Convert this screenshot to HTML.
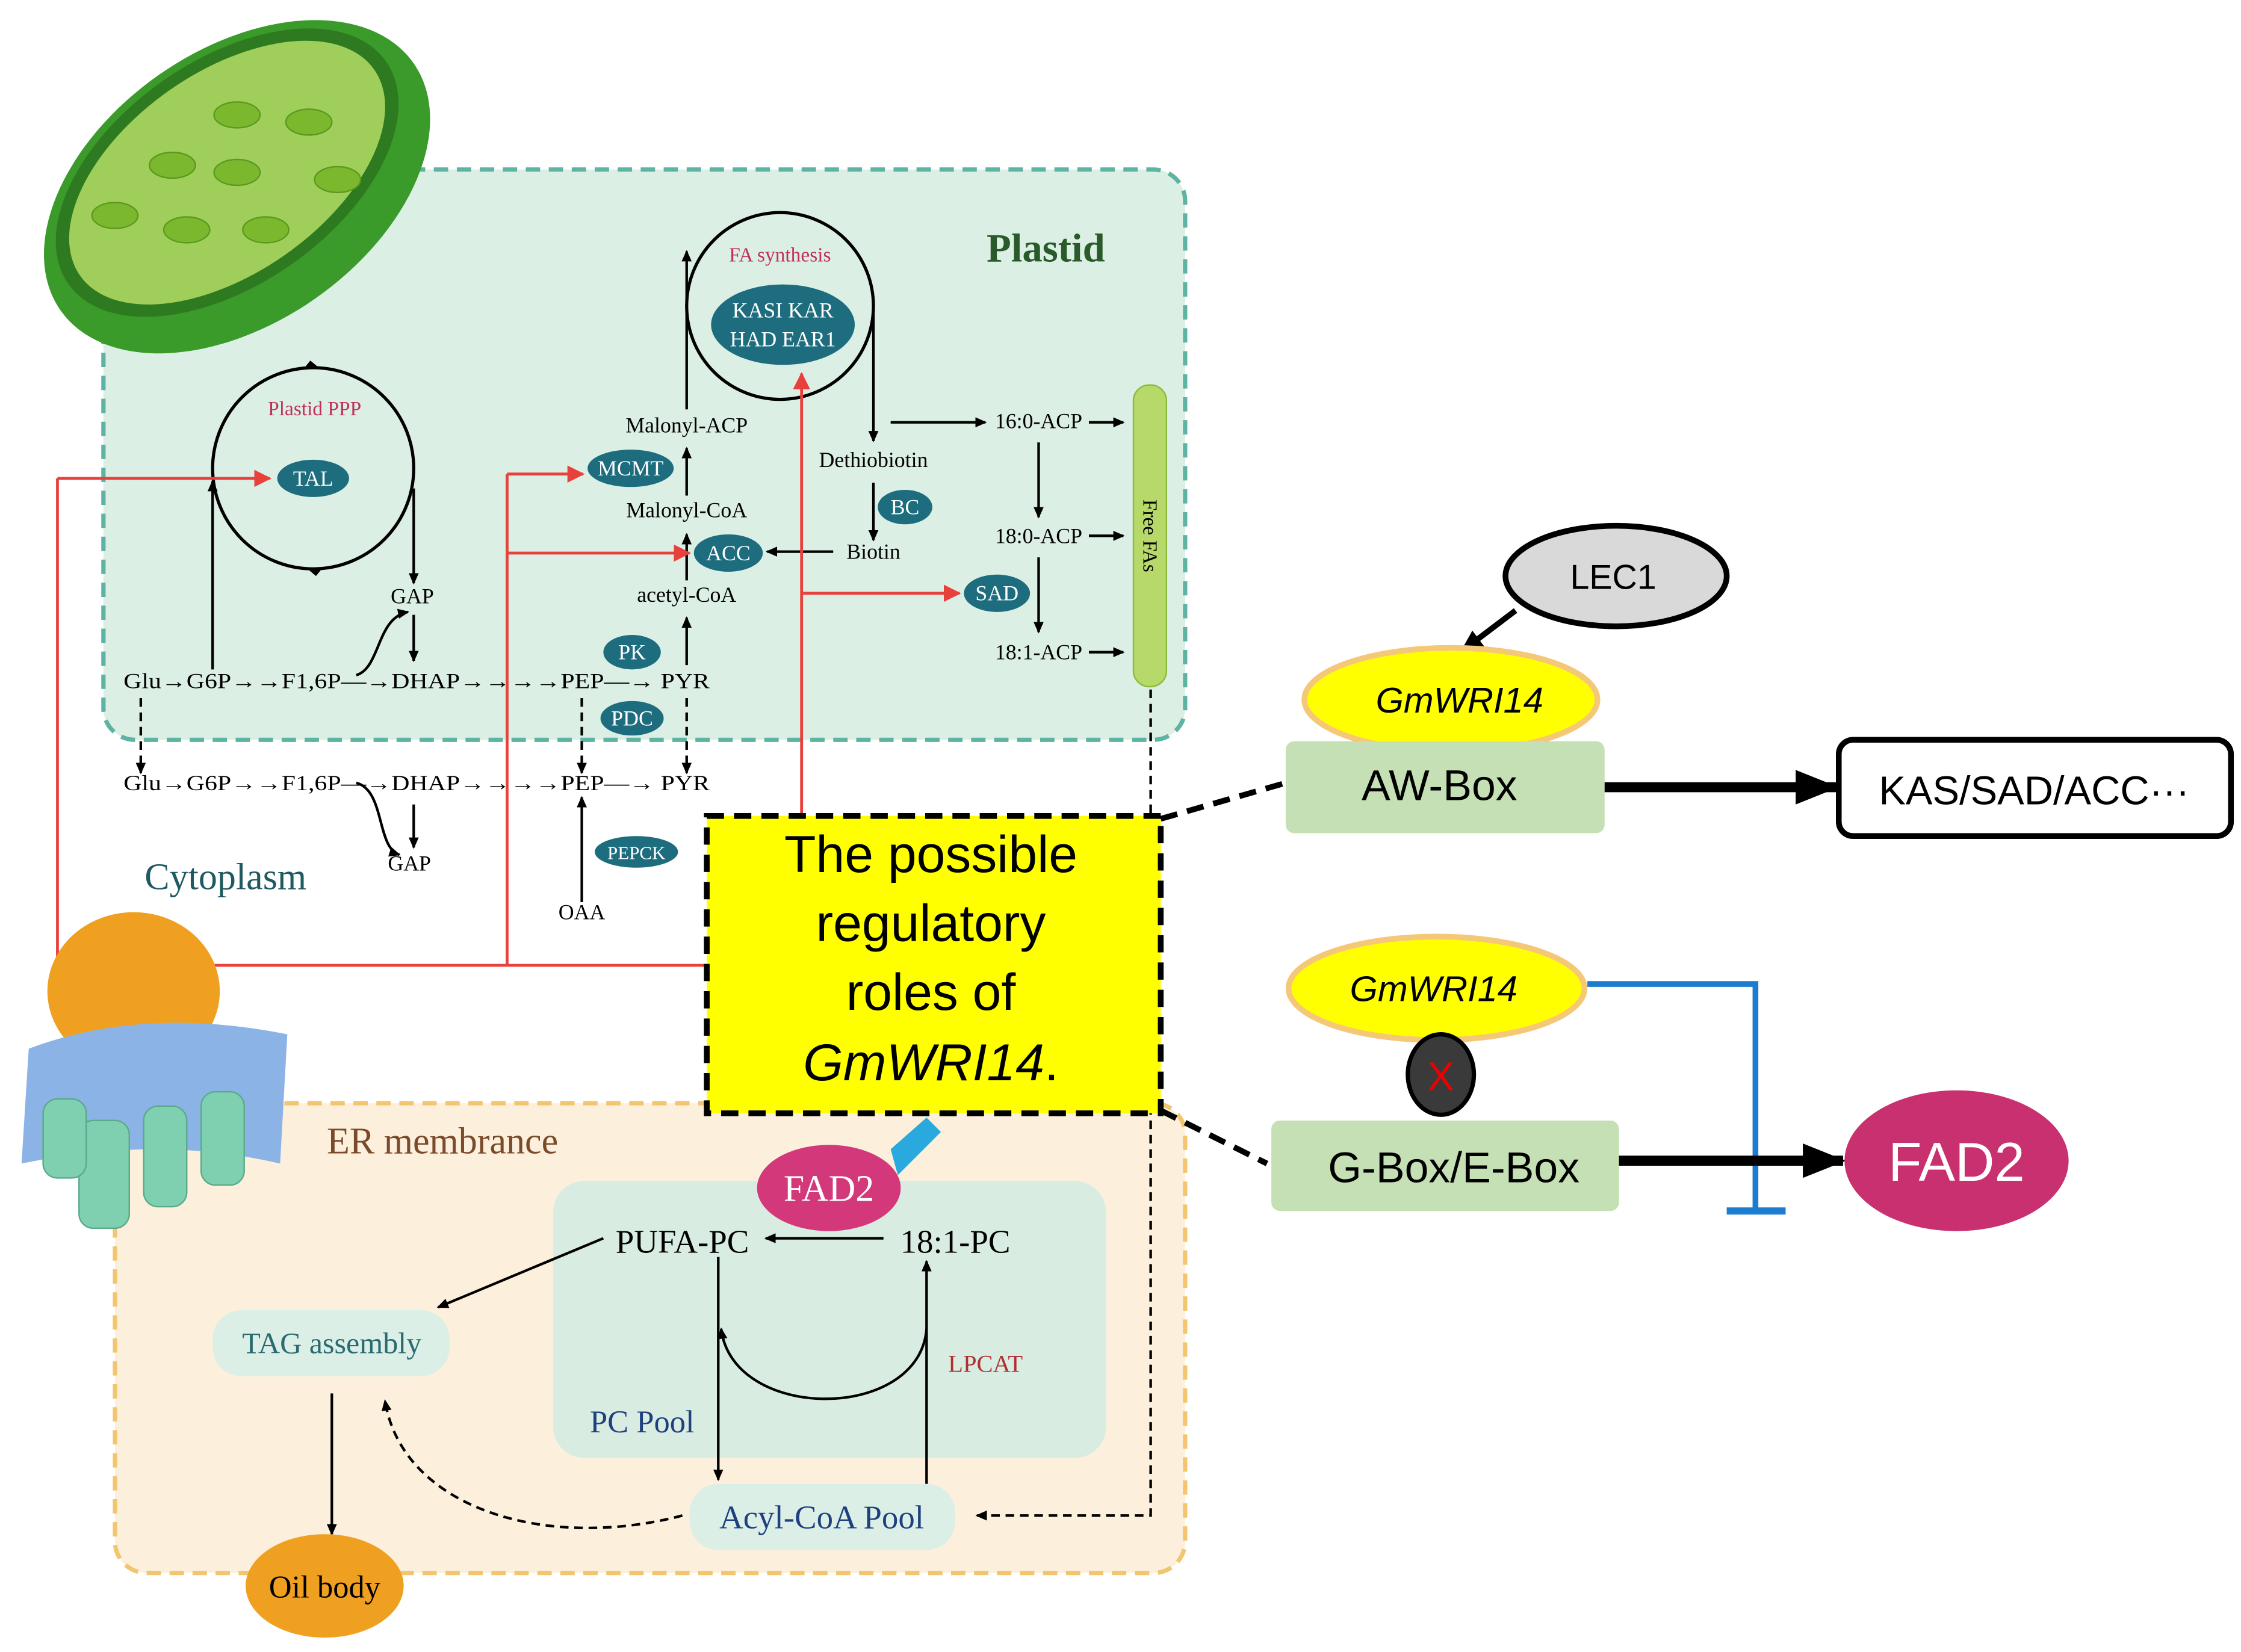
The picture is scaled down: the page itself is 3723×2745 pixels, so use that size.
<!DOCTYPE html>
<html><head><meta charset="utf-8"><style>html,body{margin:0;padding:0;background:#fff}svg{display:block}</style></head>
<body>
<svg width="3723" height="2745" viewBox="0 0 1560 1150" preserveAspectRatio="none" xmlns="http://www.w3.org/2000/svg" font-family="'Liberation Serif',serif">
<defs>
<marker id="a" markerWidth="8" markerHeight="8" refX="7" refY="4" orient="auto" markerUnits="userSpaceOnUse"><path d="M0,0.5 L8,4 L0,7.5z" fill="#000"/></marker>
<marker id="a2" markerWidth="16" markerHeight="16" refX="14" refY="8" orient="auto" markerUnits="userSpaceOnUse"><path d="M0,1 L16,8 L0,15z" fill="#000"/></marker>
<marker id="r" markerWidth="12" markerHeight="12" refX="11" refY="6" orient="auto" markerUnits="userSpaceOnUse"><path d="M0,0 L12,6 L0,12z" fill="#e8413c"/></marker>
<marker id="b" markerWidth="30" markerHeight="30" refX="28" refY="15" orient="auto" markerUnits="userSpaceOnUse"><path d="M0,3 L30,15 L0,27z" fill="#000"/></marker>
</defs>
<!-- plastid box -->
<rect x="72" y="118" width="753" height="397" rx="22" fill="#dcefe4" stroke="#5db4a2" stroke-width="3" stroke-dasharray="10,6"/>
<!-- ER box -->
<rect x="80" y="768" width="745" height="327" rx="22" fill="#fcf0dc" stroke="#f2c56e" stroke-width="3" stroke-dasharray="10,6"/>
<rect x="385" y="822" width="385" height="193" rx="22" fill="#d9ece1"/>
<!-- chloroplast -->
<g transform="rotate(-35 165 130)">
<ellipse cx="165" cy="130" rx="150" ry="95" fill="#3a9a2a"/>
<ellipse cx="165" cy="118" rx="135" ry="78" fill="#2e7a20"/>
<ellipse cx="165" cy="118" rx="125" ry="70" fill="#9fcf5a"/>
</g>
<g fill="#7cb82e" stroke="#5a9a1e"><ellipse cx="165" cy="80" rx="16" ry="9"/><ellipse cx="215" cy="85" rx="16" ry="9"/><ellipse cx="120" cy="115" rx="16" ry="9"/><ellipse cx="165" cy="120" rx="16" ry="9"/><ellipse cx="235" cy="125" rx="16" ry="9"/><ellipse cx="80" cy="150" rx="16" ry="9"/><ellipse cx="130" cy="160" rx="16" ry="9"/><ellipse cx="185" cy="160" rx="16" ry="9"/></g>
<!-- labels -->
<text x="728" y="182" font-size="28" font-weight="bold" fill="#2a5a2a" text-anchor="middle">Plastid</text>
<text x="157" y="619" font-size="26" fill="#1e5a60" text-anchor="middle">Cytoplasm</text>
<text x="308" y="803" font-size="26" fill="#7a4a2a" text-anchor="middle">ER membrance</text>
<!-- circles -->
<circle cx="218" cy="326" r="70" fill="none" stroke="#000" stroke-width="2.2"/>
<path d="M212,256 l10,0 -6,-5z M224,396 l-10,0 6,5z" fill="#000"/>
<text x="219" y="289" font-size="14" fill="#c0305a" text-anchor="middle">Plastid PPP</text>
<circle cx="543" cy="213" r="65" fill="none" stroke="#000" stroke-width="2.2"/>
<text x="543" y="182" font-size="14" fill="#c0305a" text-anchor="middle">FA synthesis</text>
<!-- ovals -->
<g fill="#1d6d7e">
<ellipse cx="545" cy="226" rx="50" ry="28"/>
<ellipse cx="218" cy="333" rx="25" ry="13"/>
<ellipse cx="439" cy="326" rx="30" ry="13"/>
<ellipse cx="507" cy="385" rx="24" ry="13"/>
<ellipse cx="630" cy="353" rx="19" ry="12"/>
<ellipse cx="694" cy="413" rx="23" ry="13"/>
<ellipse cx="440" cy="454" rx="20" ry="12"/>
<ellipse cx="440" cy="500" rx="22" ry="12"/>
<ellipse cx="443" cy="593" rx="29" ry="11"/>
</g>
<g fill="#fff" font-size="15" text-anchor="middle">
<text x="545" y="221">KASI KAR</text><text x="545" y="241">HAD EAR1</text>
<text x="218" y="338">TAL</text><text x="439" y="331">MCMT</text><text x="507" y="390">ACC</text><text x="630" y="358">BC</text><text x="694" y="418">SAD</text><text x="440" y="459">PK</text><text x="440" y="505">PDC</text><text x="443" y="598" font-size="13">PEPCK</text>
</g>
<!-- free FAs -->
<rect x="789" y="268" width="23" height="210" rx="11" fill="#b6d96a" stroke="#8cbb3a"/>
<text transform="translate(796,373) rotate(90)" font-size="14" text-anchor="middle">Free FAs</text>
<!-- plastid text -->
<g font-size="15" text-anchor="middle" fill="#000">
<text x="478" y="301">Malonyl-ACP</text><text x="478" y="360">Malonyl-CoA</text><text x="478" y="419">acetyl-CoA</text>
<text x="608" y="325">Dethiobiotin</text><text x="608" y="389">Biotin</text>
<text x="723" y="298">16:0-ACP</text><text x="723" y="378">18:0-ACP</text><text x="723" y="459">18:1-ACP</text>
<text x="287" y="420">GAP</text>
<text x="285" y="606">GAP</text><text x="405" y="640">OAA</text>
</g>
<g font-size="15" fill="#000">
<text x="86" y="479" textLength="408" lengthAdjust="spacingAndGlyphs">Glu→G6P→→F1,6P—→DHAP→→→→PEP—→ PYR</text>
<text x="86" y="550" textLength="408" lengthAdjust="spacingAndGlyphs">Glu→G6P→→F1,6P—→DHAP→→→→PEP—→ PYR</text>
</g>
<g stroke="#000" stroke-width="1.8" fill="none" marker-end="url(#a)">
<line x1="478" y1="285" x2="478" y2="175"/>
<line x1="478" y1="345" x2="478" y2="312"/>
<line x1="478" y1="404" x2="478" y2="372"/>
<line x1="478" y1="463" x2="478" y2="430"/>
<line x1="608" y1="215" x2="608" y2="307"/>
<line x1="608" y1="336" x2="608" y2="376"/>
<line x1="580" y1="384" x2="534" y2="384"/>
<line x1="620" y1="294" x2="686" y2="294"/>
<line x1="758" y1="294" x2="782" y2="294"/>
<line x1="758" y1="373" x2="782" y2="373"/>
<line x1="758" y1="454" x2="782" y2="454"/>
<line x1="723" y1="308" x2="723" y2="360"/>
<line x1="723" y1="388" x2="723" y2="440"/>
<line x1="148" y1="466" x2="148" y2="335"/>
<line x1="288" y1="340" x2="288" y2="406"/>
<line x1="288" y1="428" x2="288" y2="460"/>
<path d="M248,470 C265,465 262,430 284,426"/>
<line x1="405" y1="628" x2="405" y2="555"/>
<line x1="288" y1="560" x2="288" y2="590"/>
<path d="M248,545 C268,550 262,590 278,595"/>
<line x1="420" y1="862" x2="305" y2="910"/>
<line x1="615" y1="862" x2="533" y2="862"/>
<line x1="500" y1="875" x2="500" y2="1030"/>
<line x1="645" y1="1033" x2="645" y2="878"/>
<path d="M645,925 C640,990 510,990 502,925"/>
<line x1="231" y1="970" x2="231" y2="1068"/>
</g>
<g stroke="#000" stroke-width="1.8" fill="none" stroke-dasharray="6,4" marker-end="url(#a)">
<line x1="98" y1="486" x2="98" y2="538"/>
<line x1="405" y1="486" x2="405" y2="538"/>
<line x1="478" y1="486" x2="478" y2="538"/>
<polyline points="801,480 801,1055 680,1055"/>
<path d="M475,1055 C380,1080 280,1050 268,975"/>
</g>
<!-- red -->
<g stroke="#e8413c" stroke-width="2" fill="none">
<polyline points="492,672 40,672 40,333"/>
<line x1="353" y1="672" x2="353" y2="330"/>
<line x1="558" y1="568" x2="558" y2="260" marker-end="url(#r)"/>
<line x1="40" y1="333" x2="188" y2="333" marker-end="url(#r)"/>
<line x1="353" y1="330" x2="406" y2="330" marker-end="url(#r)"/>
<line x1="353" y1="385" x2="480" y2="385" marker-end="url(#r)"/>
<line x1="558" y1="413" x2="668" y2="413" marker-end="url(#r)"/>
</g>
<!-- ER graphics -->
<ellipse cx="93" cy="690" rx="60" ry="55" fill="#f0a020"/>
<path d="M20,730 Q100,700 200,720 L195,810 Q110,790 15,810z" fill="#8bb3e6"/>
<g fill="#7fd0b0" stroke="#5aaa8a"><rect x="55" y="780" width="35" height="75" rx="10"/><rect x="100" y="770" width="30" height="70" rx="10"/><rect x="140" y="760" width="30" height="65" rx="10"/><rect x="30" y="765" width="30" height="55" rx="10"/></g>
<!-- ER contents -->
<ellipse cx="577" cy="827" rx="50" ry="30" fill="#d2387a"/>
<text x="577" y="836" font-size="26" fill="#fff" text-anchor="middle">FAD2</text>
<path d="M620,800 L645,778 L655,788 L625,818z" fill="#29a9dd"/>
<text x="475" y="872" font-size="23" text-anchor="middle">PUFA-PC</text>
<text x="665" y="872" font-size="23" text-anchor="middle">18:1-PC</text>
<text x="686" y="955" font-size="17" fill="#b03030" text-anchor="middle">LPCAT</text>
<text x="447" y="997" font-size="22" fill="#1e4080" text-anchor="middle">PC Pool</text>
<rect x="148" y="912" width="165" height="46" rx="20" fill="#dcefe6"/>
<text x="231" y="942" font-size="21" fill="#2a6a70" text-anchor="middle">TAG assembly</text>
<rect x="480" y="1033" width="185" height="46" rx="20" fill="#dcefe6"/>
<text x="572" y="1064" font-size="23" fill="#1e4080" text-anchor="middle">Acyl-CoA Pool</text>
<ellipse cx="226" cy="1104" rx="55" ry="36" fill="#f0a020"/>
<text x="226" y="1112" font-size="22" text-anchor="middle">Oil body</text>
<!-- yellow box -->
<rect x="492" y="568" width="316" height="207" fill="#ffff00" stroke="#000" stroke-width="4" stroke-dasharray="12,7"/>
<g font-family="'Liberation Sans',sans-serif" font-size="36" text-anchor="middle" fill="#000">
<text x="648" y="607">The possible</text><text x="648" y="655">regulatory</text><text x="648" y="703">roles of</text><text x="648" y="752"><tspan font-style="italic">GmWRI14</tspan>.</text>
</g>
<g stroke="#000" stroke-width="4" stroke-dasharray="12,7" fill="none"><line x1="808" y1="570" x2="895" y2="545"/><line x1="808" y1="773" x2="882" y2="810"/></g>
<!-- right side -->
<g font-family="'Liberation Sans',sans-serif">
<line x1="1055" y1="425" x2="1018" y2="453" stroke="#000" stroke-width="4" marker-end="url(#a2)"/>
<ellipse cx="1125" cy="401" rx="77" ry="35" fill="#d9d9d9" stroke="#000" stroke-width="4"/>
<text x="1123" y="410" font-size="24" text-anchor="middle">LEC1</text>
<ellipse cx="1010" cy="487" rx="102" ry="36" fill="#ffff00" stroke="#f5c878" stroke-width="4"/>
<text x="1016" y="496" font-size="25" font-style="italic" text-anchor="middle">GmWRI14</text>
<rect x="895" y="516" width="222" height="64" rx="6" fill="#c5e0b4"/>
<text x="1002" y="557" font-size="30" text-anchor="middle">AW-Box</text>
<line x1="1117" y1="548" x2="1278" y2="548" stroke="#000" stroke-width="7" marker-end="url(#b)"/>
<rect x="1280" y="515" width="273" height="67" rx="10" fill="#fff" stroke="#000" stroke-width="4"/>
<text x="1416" y="560" font-size="28" text-anchor="middle">KAS/SAD/ACC···</text>
<polyline points="1105,685 1222,685 1222,843" fill="none" stroke="#1c7cd0" stroke-width="4"/>
<line x1="1202" y1="843" x2="1243" y2="843" stroke="#1c7cd0" stroke-width="5"/>
<ellipse cx="1000" cy="688" rx="103" ry="36" fill="#ffff00" stroke="#f5c878" stroke-width="4"/>
<text x="998" y="697" font-size="25" font-style="italic" text-anchor="middle">GmWRI14</text>
<ellipse cx="1003" cy="748" rx="23" ry="28" fill="#3a3a3a" stroke="#000" stroke-width="3"/>
<text x="1003" y="759" font-size="28" fill="#e00" text-anchor="middle">X</text>
<rect x="885" y="780" width="242" height="63" rx="6" fill="#c5e0b4"/>
<text x="1012" y="823" font-size="30" text-anchor="middle">G-Box/E-Box</text>
<line x1="1127" y1="808" x2="1283" y2="808" stroke="#000" stroke-width="7" marker-end="url(#b)"/>
<ellipse cx="1362" cy="808" rx="78" ry="49" fill="#c9306f"/>
<text x="1362" y="822" font-size="38" fill="#fff" text-anchor="middle">FAD2</text>
</g>
</svg>
</body></html>
